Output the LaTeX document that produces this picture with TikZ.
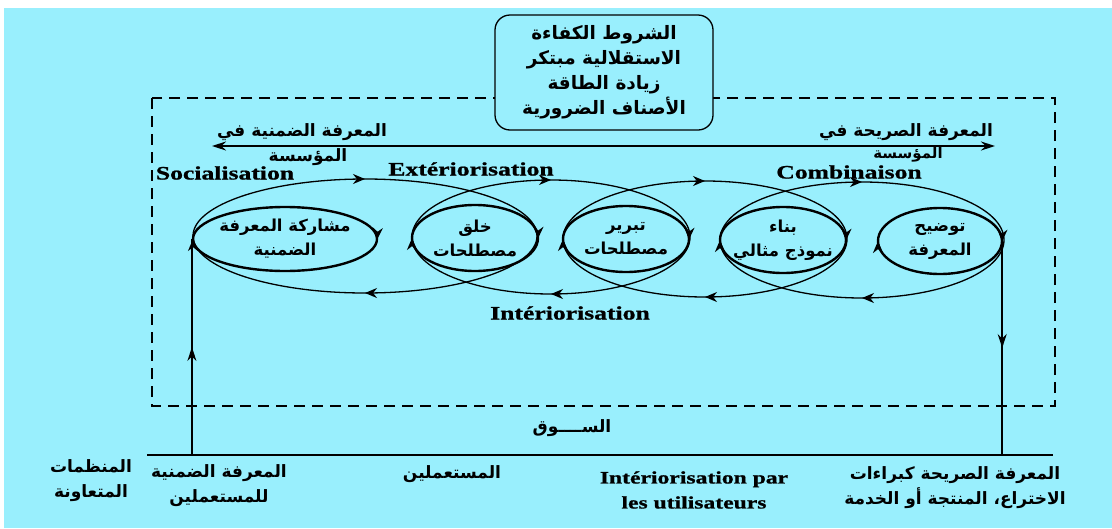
\documentclass[tikz,border=0pt]{standalone}
\usepackage{fontspec}
\usetikzlibrary{arrows.meta,decorations.markings,shapes.geometric}
\TeXXeTstate=1
\newfontfamily\arfont[Script=Arabic]{DejaVu Sans}
\newfontfamily\latfont[FakeStretch=1.35,FakeBold=1]{Liberation Serif}
\newcommand{\ar}[1]{{\arfont\bfseries\beginR #1\endR}}
\definecolor{bgcyan}{RGB}{153,239,253}
\tikzset{
  tip/.tip={Stealth[length=12pt,width=10pt]},
  bigtip/.tip={Stealth[length=14pt,width=9pt]},
  arlabel/.style={inner sep=0pt, align=center, font=\fontsize{17}{25}\selectfont},
  latlabel/.style={inner sep=0pt, align=center, font=\latfont\bfseries\fontsize{19}{25}\selectfont},
  textell/.style={shape=ellipse, inner sep=0pt, align=center, font=\fontsize{16.5}{24}\selectfont},
  smallring/.style={line width=2.4pt, postaction={decorate, decoration={markings,
      mark=at position 0.002 with {\arrow{tip}},
      mark=at position 0.5 with {\arrow{tip}}}}},
  bigring/.style={line width=1.3pt, postaction={decorate, decoration={markings,
      mark=at position 0.25 with {\arrow{tip}},
      mark=at position 0.75 with {\arrow{tip}}}}},
  conn/.style={line width=1.5pt, postaction={decorate, decoration={markings,
      mark=at position 0.5 with {\arrow{bigtip}}}}},
  frame/.style={line width=1.8pt, dash pattern=on 11pt off 7pt},
}
\begin{document}
\begin{tikzpicture}[x=1pt,y=-1pt]
  % page and backdrop
  \fill[white] (0,0) rectangle (1112,528);
  \fill[bgcyan] (4,8) rectangle (1112,528);
  \useasboundingbox (0,0) rectangle (1112,528);

  % dashed frame of the organisation
  \draw[frame] (152,98) rectangle (1055,406);

  % enabling conditions
  \node[draw, line width=1.3pt, rounded corners=15pt, fill=bgcyan,
        minimum width=218pt, minimum height=115pt, inner sep=0pt,
        font=\fontsize{18.5}{25}\selectfont, align=center] (cond) at (604,72.5)
    {\ar{الشروط  الكفاءة}\\\ar{الاستقلالية مبتكر}\\\ar{زيادة الطاقة}\\\ar{الأصناف الضرورية}};

  % tacit / explicit axis
  \coordinate (axL) at (212,146);
  \coordinate (axR) at (995,146);
  \draw[line width=1.5pt, {bigtip}-{bigtip}] (axL) -- (axR);
  \node[arlabel] (tacA) at (302,132) {\ar{المعرفة الضمنية في}};
  \node[arlabel] (tacB) at (308,157) {\ar{المؤسسة}};
  \node[arlabel] (expA) at (906,132) {\ar{المعرفة الصريحة في}};
  \node[arlabel, font=\fontsize{15}{20}\selectfont] (expB) at (908,155) {\ar{المؤسسة}};

  % phase titles
  \node[latlabel] (soc) at (225,173) {Socialisation};
  \node[latlabel] (ext) at (471,169) {Extériorisation};
  \node[latlabel] (com) at (849,172) {Combinaison};
  \node[latlabel] (int) at (570,313) {Intériorisation};

  % large spiral loops
  \draw[bigring] (365,236) ellipse [x radius=172, y radius=57];
  \draw[bigring] (551,237) ellipse [x radius=139, y radius=57];
  \draw[bigring] (705,239) ellipse [x radius=142, y radius=58];
  \draw[bigring] (862,240) ellipse [x radius=142, y radius=58];

  % the five steps
  \node[textell, minimum width=184pt, minimum height=64pt] (e1) at (285,239)
    {\ar{مشاركة المعرفة}\\\ar{الضمنية}};
  \node[textell, minimum width=126pt, minimum height=66pt] (e2) at (475,238)
    {\ar{خلق}\\\ar{مصطلحات}};
  \node[textell, minimum width=126pt, minimum height=66pt] (e3) at (626,239)
    {\ar{تبرير}\\\ar{مصطلحات}};
  \node[textell, minimum width=126pt, minimum height=66pt] (e4) at (783,240)
    {\ar{بناء}\\\ar{نموذج مثالي}};
  \node[textell, minimum width=124pt, minimum height=66pt] (e5) at (940,241)
    {\ar{توضيح}\\\ar{المعرفة}};
  \draw[smallring] (e1.center) ellipse [x radius=92, y radius=32];
  \draw[smallring] (e2.center) ellipse [x radius=63, y radius=33];
  \draw[smallring] (e3.center) ellipse [x radius=63, y radius=33];
  \draw[smallring] (e4.center) ellipse [x radius=63, y radius=33];
  \draw[smallring] (e5.center) ellipse [x radius=62, y radius=33];

  % market line and links
  \coordinate (mL) at (147,455);
  \coordinate (mR) at (1053,455);
  \draw[line width=1.5pt] (mL) -- (mR);
  \coordinate (inL) at (e1.west |- mL);
  \coordinate (outR) at (e5.east |- mR);
  \draw[conn] (inL) -- (e1.west);
  \draw[conn] (e5.east) -- (outR);
  \node[arlabel] (market) at (572,428) {\ar{الســــوق}};

  % market actors
  \node[arlabel] (partners) at (91,481) {\ar{المنظمات}\\\ar{المتعاونة}};
  \node[arlabel] (usertacit) at (219,486) {\ar{المعرفة الضمنية}\\\ar{للمستعملين}};
  \node[arlabel] (users) at (452,474) {\ar{المستعملين}};
  \node[latlabel, font=\latfont\bfseries\fontsize{17.5}{25}\selectfont] (intuser) at (694,490)
    {Intériorisation par\\les utilisateurs};
  \node[arlabel] (output) at (955,488)
    {\ar{المعرفة الصريحة كبراءات}\\\ar{الاختراع، المنتجة أو الخدمة}};
\end{tikzpicture}
\end{document}
